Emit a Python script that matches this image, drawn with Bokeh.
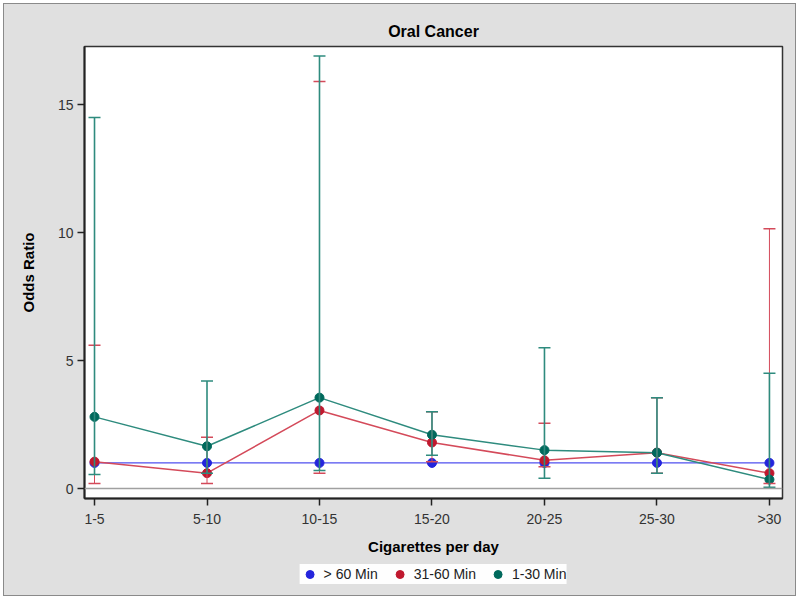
from bokeh.plotting import figure
from bokeh.layouts import column
from bokeh.models import (ColumnDataSource, Whisker, TeeHead, Span, Legend, LegendItem,
                          FixedTicker, Range1d)
from bokeh.embed import file_html
from bokeh.resources import INLINE

categories = ["1-5", "5-10", "10-15", "15-20", "20-25", "25-30", ">30"]

or_gt60 = [1.0, 1.0, 1.0, 1.0, 1.0, 1.0, 1.0]

or_31_60 = [1.05, 0.6, 3.05, 1.8, 1.1, 1.4, 0.6]
lo_31_60 = [0.2, 0.2, 0.6, 1.05, 0.85, 0.6, 0.2]
hi_31_60 = [5.6, 2.0, 15.9, 3.0, 2.55, 3.55, 10.15]

or_1_30 = [2.8, 1.65, 3.55, 2.1, 1.5, 1.4, 0.35]
lo_1_30 = [0.55, 0.6, 0.7, 1.3, 0.4, 0.6, 0.05]
hi_1_30 = [14.5, 4.2, 16.9, 3.0, 5.5, 3.55, 4.5]

series_names = ["> 60 Min", "31-60 Min", "1-30 Min"]
y_ticks = [0, 5, 10, 15]

FONT = "Liberation Sans"
BG = "#E0E0E0"
x = list(range(len(categories)))

p = figure(width=791, height=556, frame_width=698, frame_height=452,
           x_range=Range1d(-0.089, 6.116), y_range=Range1d(-0.39, 17.27),
           output_backend="svg", toolbar_location=None,
           min_border_left=80, min_border_top=42, min_border_right=13, min_border_bottom=62,
           title="Oral Cancer")
p.background_fill_color = "white"
p.border_fill_color = BG
p.outline_line_color = "#333333"
p.outline_line_width = 1.5
p.grid.visible = False

p.title.align = "center"
p.title.text_font = FONT
p.title.text_font_size = "16px"
p.title.text_font_style = "bold"
p.title.text_color = "black"
p.title.offset = 0
p.title.standoff = 13

for ax in (p.xaxis[0], p.yaxis[0]):
    ax.axis_line_color = "#222222"
    ax.axis_line_width = 2
    ax.major_tick_line_color = "#222222"
    ax.major_tick_line_width = 1.5
    ax.major_tick_out = 7
    ax.major_tick_in = 0
    ax.minor_tick_line_color = None
    ax.major_label_text_font = FONT
    ax.major_label_text_font_size = "14px"
    ax.major_label_text_color = "#333333"
    ax.axis_label_text_font = FONT
    ax.axis_label_text_font_size = "15px"
    ax.axis_label_text_font_style = "bold"
    ax.axis_label_text_color = "black"

p.xaxis[0].ticker = FixedTicker(ticks=x)
p.xaxis[0].major_label_overrides = {i: c for i, c in enumerate(categories)}
p.xaxis[0].axis_label = "Cigarettes per day"
p.xaxis[0].major_label_standoff = 5
p.xaxis[0].axis_label_standoff = 8
p.yaxis[0].ticker = FixedTicker(ticks=y_ticks)
p.yaxis[0].axis_label = "Odds Ratio"
p.yaxis[0].major_label_standoff = 4
p.yaxis[0].axis_label_standoff = 18

p.add_layout(Span(location=0, dimension="width", line_color="#A0A0A0", line_width=1.5))

blue_pt, blue_ln = "#2424DC", "#5050F0"
red_pt, red_ln = "#C0182E", "#D44A5A"
teal_pt, teal_ln = "#00695C", "#2E8B7E"

src_b = ColumnDataSource(dict(x=x, y=or_gt60))
src_r = ColumnDataSource(dict(x=x, y=or_31_60, lo=lo_31_60, hi=hi_31_60))
src_t = ColumnDataSource(dict(x=x, y=or_1_30, lo=lo_1_30, hi=hi_1_30))

def whisker(src, color, lw):
    w = Whisker(source=src, base="x", lower="lo", upper="hi", line_color=color,
                line_width=lw, level="glyph",
                lower_head=TeeHead(size=12, line_color=color, line_width=1.5),
                upper_head=TeeHead(size=12, line_color=color, line_width=1.5))
    p.add_layout(w)

# blue
p.line("x", "y", source=src_b, line_color=blue_ln, line_width=1.2)
p.scatter("x", "y", source=src_b, size=9, fill_color=blue_pt, line_color=blue_pt)

# red
whisker(src_r, red_ln, 1.0)
p.line("x", "y", source=src_r, line_color=red_ln, line_width=1.5)
p.scatter("x", "y", source=src_r, size=9, fill_color=red_pt, line_color=red_pt)

# teal
whisker(src_t, teal_ln, 1.6)
p.line("x", "y", source=src_t, line_color=teal_ln, line_width=1.5)
p.scatter("x", "y", source=src_t, size=9, fill_color=teal_pt, line_color=teal_pt)

# legend strip below the plot (its markers lie outside this strip's ranges)
lg = figure(width=791, height=35, x_range=Range1d(-100, -99), y_range=Range1d(-100, -99),
            output_backend="svg", toolbar_location=None,
            min_border_left=0, min_border_right=0, min_border_top=0, min_border_bottom=0)
lg.axis.visible = False
lg.grid.visible = False
lg.outline_line_color = None
lg.background_fill_color = BG
lg.border_fill_color = BG
items = []
for name, src, col in zip(series_names, [src_b, src_r, src_t], [blue_pt, red_pt, teal_pt]):
    r = lg.scatter("x", "y", source=src, size=9, fill_color=col, line_color=col)
    items.append(LegendItem(label=name, renderers=[r]))
legend = Legend(items=items, orientation="horizontal", location="top_center",
                background_fill_color="white", border_line_color=None,
                label_text_font=FONT, label_text_font_size="14px",
                label_text_color="#222222", glyph_width=20, glyph_height=20,
                spacing=12, padding=1, margin=4, label_standoff=4,
                label_height=14)
lg.add_layout(legend)

layout = column(p, lg, spacing=0)
layout.styles = {"margin-left": "4px", "margin-top": "4px",
                 "outline": "1px solid #8a8a8a", "background-color": BG}

open("out.html", "w").write(file_html(layout, INLINE))
